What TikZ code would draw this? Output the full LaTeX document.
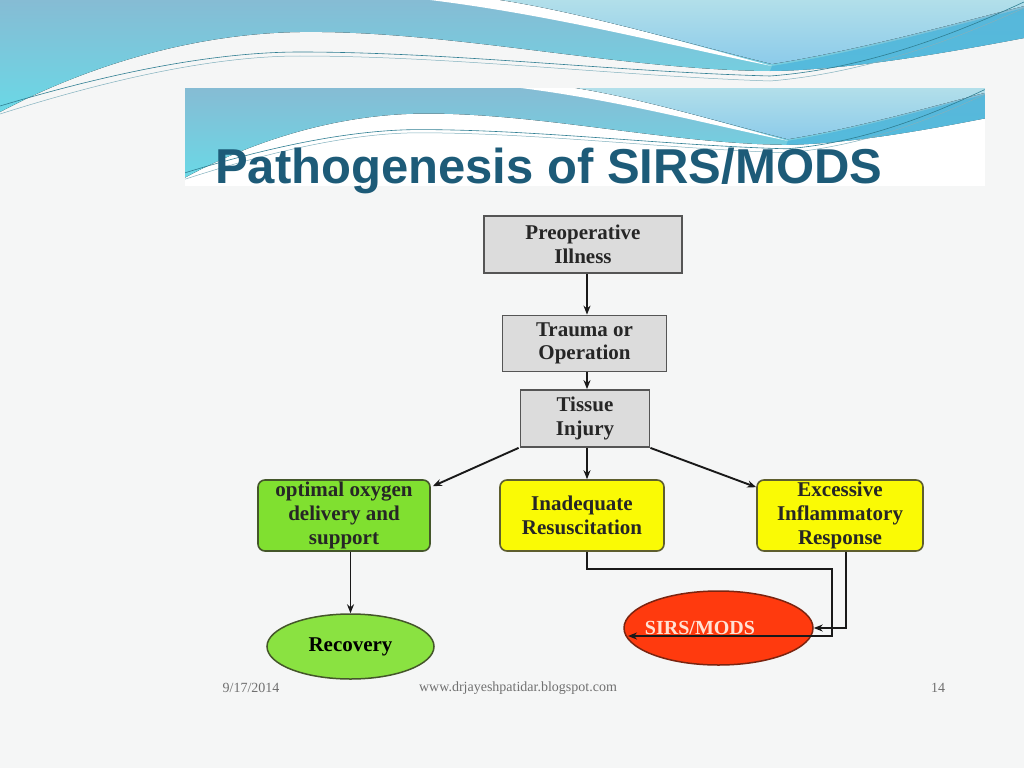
\documentclass[tikz,border=0pt]{standalone}
\usepackage{fontspec}
\setmainfont{Liberation Serif}
\newfontfamily\titlefont{Liberation Sans}
\usetikzlibrary{arrows.meta,shapes.geometric,calc}
\definecolor{bg}{HTML}{F5F6F6}
\definecolor{wtop}{HTML}{86BCD4}
\definecolor{wbot}{HTML}{6AD8E6}
\definecolor{ltop}{HTML}{B2DFEA}
\definecolor{lbot}{HTML}{8CCBEA}
\definecolor{dstripe}{HTML}{4DB6DC}
\definecolor{wline}{HTML}{2F7E92}
\definecolor{titleblue}{HTML}{1D5B78}
\definecolor{boxgray}{HTML}{DCDCDC}
\definecolor{boxedge}{HTML}{555555}
\definecolor{lime}{HTML}{80E030}
\definecolor{limeedge}{HTML}{44562A}
\definecolor{yel}{HTML}{FAFA05}
\definecolor{yeledge}{HTML}{5E5E2E}
\definecolor{redfill}{HTML}{FF3A0E}
\definecolor{rededge}{HTML}{7A2410}
\definecolor{sirstext}{HTML}{FFE2D4}
\definecolor{foot}{HTML}{707070}
\newcommand{\hdrwave}{%
  \fill[top color=wtop, bottom color=wbot]
    (0,0) -- (1024,0) -- (1024,38) .. controls (950,52) and (850,70) .. (770,71)
    .. controls (620,70) and (450,30) .. (300,32)
    .. controls (170,34) and (60,80) .. (0,112) -- cycle;
  \fill[white] (430,0) .. controls (560,16) and (680,48) .. (772,66)
    .. controls (690,44) and (580,12) .. (500,0) -- cycle;
  \fill[top color=ltop, bottom color=lbot]
    (500,0) .. controls (580,12) and (690,44) .. (772,64)
    .. controls (860,50) and (960,22) .. (1024,6) -- (1024,0) -- cycle;
  \fill[dstripe, opacity=0.8] (772,66) .. controls (860,52) and (960,24) .. (1024,8)
    -- (1024,38) .. controls (950,52) and (850,70) .. (770,71) -- cycle;
  \draw[wline, line width=0.6pt] (0,106) .. controls (120,70) and (220,52) .. (300,52)
    .. controls (450,52) and (620,72) .. (770,76) .. controls (880,68) and (980,22) .. (1024,2);
  \draw[wline!60, line width=0.5pt] (0,114) .. controls (120,76) and (220,56) .. (300,56)
    .. controls (450,56) and (620,76) .. (770,81) .. controls (880,72) and (980,28) .. (1024,8);
}
\tikzset{
  graybox/.style={draw=boxedge, fill=boxgray, line width=1.8pt, rectangle, inner sep=0pt,
    align=center, text=black!85, font=\bfseries\fontsize{21}{23.5}\selectfont},
  rbox/.style={rectangle, rounded corners=7pt, line width=1.6pt, inner sep=0pt,
    minimum width=168pt, minimum height=71pt, align=center, text=black!85,
    font=\bfseries\fontsize{21}{24}\selectfont},
  oval/.style={ellipse, line width=1.5pt, inner sep=0pt, align=center,
    font=\bfseries\fontsize{21}{24}\selectfont},
  arr/.style={-{Stealth[length=9pt,width=7pt]}, line width=1.9pt, black!90},
  foottext/.style={text=foot, font=\fontsize{14}{14}\selectfont, inner sep=0pt}
}
\begin{document}
\begin{tikzpicture}[x=1pt, y=-1pt]
\useasboundingbox (0,0) rectangle (1024,768);
\fill[bg] (0,0) rectangle (1024,768);
% header waves
\hdrwave
% title band
\begin{scope}
  \clip (185,88) rectangle (985,186);
  \fill[white] (185,88) rectangle (985,186);
  \begin{scope}[shift={(185,88)}, xscale=0.781, yscale=0.8]
    \hdrwave
  \end{scope}
\end{scope}
\node[anchor=base west, inner sep=0pt, text=titleblue,
  font=\titlefont\bfseries\fontsize{49}{49}\selectfont] (title) at (215,183) {Pathogenesis of SIRS/MODS};

% nodes
\node[graybox, minimum width=198pt, minimum height=57pt] (pre) at (583,244.5) {Preoperative\\Illness};
\node[graybox, minimum width=164pt, minimum height=56pt] (trauma) at (584.5,343.5) {Trauma or\\Operation};
\node[graybox, minimum width=129pt, minimum height=57pt] (tissue) at (585,418.5) {Tissue\\Injury};
\node[rbox, fill=lime, draw=limeedge, minimum width=172pt] (opt) at (344,515.5) {optimal oxygen\\delivery and\\support};
\node[rbox, fill=yel, draw=yeledge, minimum width=164pt] (inad) at (582,515.5) {Inadequate\\Resuscitation};
\node[rbox, fill=yel, draw=yeledge, minimum width=166pt] (exc) at (840,515.5) {Excessive\\Inflammatory\\Response};
\node[oval, fill=lime!92!white, draw=limeedge, minimum width=167pt, minimum height=65pt] (rec) at (350.5,646.5) {Recovery};
\node[oval, fill=redfill, draw=rededge, minimum width=189pt, minimum height=74pt] (sirs) at (718.5,628) {};
\node[inner sep=0pt, text=sirstext, font=\bfseries\fontsize{20}{24}\selectfont] (sirslabel) at (700,628) {SIRS/MODS};

% helper coordinates
\coordinate (X) at (587,0);
\coordinate (r1) at (832,569);
\coordinate (r2) at (846,0);
\coordinate (sirsA) at (628,636);

% connectors
\draw[arr] (pre.south -| X) -- (trauma.north -| X);
\draw[arr] (trauma.south -| X) -- (tissue.north -| X);
\draw[arr] (tissue.south -| X) -- (inad.north -| X);
\draw[arr] ([xshift=-1pt]tissue.south west) -- ([shift={(2,7)}]opt.north east);
\draw[arr] (tissue.south east) -- ([shift={(0,8)}]exc.north west);
\draw[arr] (opt.south -| rec.north) -- (rec.north);
\draw[arr] (inad.south -| X) |- (r1) |- (sirsA);
\draw[arr] (exc.south -| r2) |- (sirs.east);

% footer
\node[foottext] (date) at (251,688) {9/17/2014};
\node[foottext] (site) at (518,688) {www.drjayeshpatidar.blogspot.com};
\node[foottext] (page) at (938,688) {14};
\end{tikzpicture}
\end{document}
